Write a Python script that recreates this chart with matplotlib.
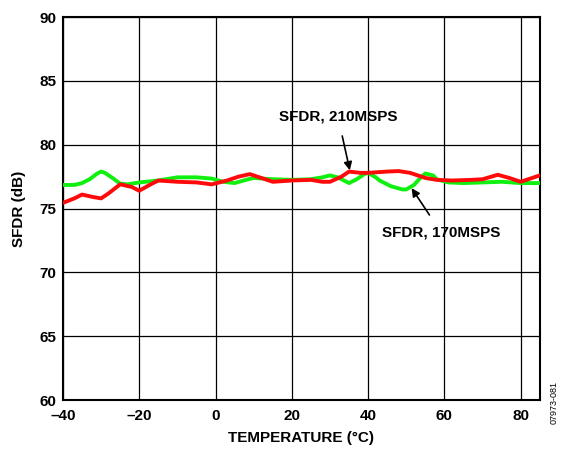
import matplotlib
matplotlib.use("Agg")
import matplotlib.pyplot as plt

plt.rcParams['font.family'] = ['Liberation Sans', 'DejaVu Sans']

temp_170 = [-40, -37, -35, -33, -31, -30, -29, -27, -25, -23, -20, -15, -10, -5, -1, 2, 5, 8, 10, 15, 20, 25, 28, 30, 32, 33,
            35, 37, 39, 40, 42, 43, 46, 49, 50, 52, 54, 55, 57, 58, 61, 65, 70, 75, 80, 85]
sfdr_170 = [76.85, 76.85, 77.0, 77.3, 77.75, 77.9, 77.8, 77.4, 76.95, 76.9, 77.05, 77.2, 77.45, 77.45, 77.35, 77.1, 77.0, 77.25,
            77.4, 77.3, 77.25, 77.3, 77.45, 77.6, 77.45, 77.3, 77.0, 77.3, 77.7, 77.8, 77.45, 77.2, 76.75, 76.5, 76.5, 76.85, 77.5, 77.75,
            77.6, 77.3, 77.05, 77.0, 77.05, 77.1, 77.0, 77.0]

temp_210 = [-40, -37, -35, -32, -30, -28, -25, -22, -20, -17, -15, -10, -5, -1, 3, 6, 9, 12, 15, 20,
            25, 28, 30, 33, 35, 38, 40, 45, 48, 51, 55, 58, 62, 67, 70, 74, 77, 80, 83, 85]
sfdr_210 = [75.45, 75.8, 76.1, 75.9, 75.8, 76.2, 76.9, 76.7, 76.4, 76.9, 77.2, 77.1, 77.05, 76.9,
            77.2, 77.5, 77.7, 77.4, 77.1, 77.2, 77.25, 77.1, 77.1, 77.5, 77.9, 77.8, 77.8, 77.9,
            77.94, 77.8, 77.4, 77.25, 77.2, 77.25, 77.3, 77.65, 77.4, 77.1, 77.4, 77.6]

xticks = [-40, -20, 0, 20, 40, 60, 80]
yticks = [60, 65, 70, 75, 80, 85, 90]

fig = plt.figure(figsize=(5.67, 4.51), dpi=100)
ax = fig.add_axes([0.111, 0.113, 0.841, 0.849])

ax.plot(temp_170, sfdr_170, color='#10F010', lw=2.8, solid_joinstyle='round', solid_capstyle='round', zorder=3)
ax.plot(temp_210, sfdr_210, color='#FF0A0A', lw=2.8, solid_joinstyle='round', solid_capstyle='round', zorder=4)

ax.set_xlim(-40, 85)
ax.set_ylim(60, 90)
ax.set_xticks(xticks)
ax.set_yticks(yticks)
ax.set_xticklabels(['–40', '–20', '0', '20', '40', '60', '80'])
ax.tick_params(axis='x', which='both', length=0, labelsize=11, pad=6.5)
ax.tick_params(axis='y', which='both', length=0, labelsize=11, pad=4.5)
for lab in ax.get_xticklabels() + ax.get_yticklabels():
    lab.set_fontweight('bold')
ax.grid(True, color='black', lw=0.9)
for s in ax.spines.values():
    s.set_linewidth(1.5)
    s.set_color('black')

ax.set_xlabel('TEMPERATURE (°C)', fontsize=11, fontweight='bold', labelpad=6)
ax.set_ylabel('SFDR (dB)', fontsize=11, fontweight='bold', labelpad=10)

ax.annotate('SFDR, 210MSPS', xy=(35.2, 78.0), xytext=(32.1, 82.2),
            ha='center', va='center', fontsize=11, fontweight='bold',
            arrowprops=dict(arrowstyle='-|>', color='black', lw=1.2, mutation_scale=12,
                            shrinkA=7, shrinkB=0))
ax.annotate('SFDR, 170MSPS', xy=(51.4, 76.6), xytext=(59.2, 73.1),
            ha='center', va='center', fontsize=11, fontweight='bold',
            arrowprops=dict(arrowstyle='-|>', color='black', lw=1.2, mutation_scale=12,
                            shrinkA=7, shrinkB=0))

fig.text(0.978, 0.06, '07973-081', rotation=90, fontsize=6.5, ha='center', va='bottom')

fig.savefig('out.png', dpi=100)
